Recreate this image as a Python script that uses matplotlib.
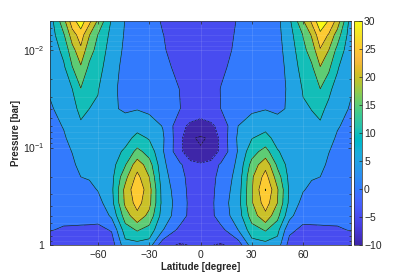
import numpy as np
import matplotlib
matplotlib.use("Agg")
import matplotlib.pyplot as plt
from matplotlib.colors import LinearSegmentedColormap, Normalize
from matplotlib.cm import ScalarMappable
from matplotlib.ticker import FixedLocator, NullFormatter

plt.rcParams['font.family'] = ['Liberation Sans', 'DejaVu Sans']
plt.rcParams['mathtext.fontset'] = 'custom'
plt.rcParams['mathtext.rm'] = 'Liberation Sans'
plt.rcParams['mathtext.it'] = 'Liberation Sans:italic'
plt.rcParams['mathtext.bf'] = 'Liberation Sans:bold'

# latitude [degree]
lat = [-88, -80, -75, -70, -65, -60, -52, -44, -37, -30, -22, -12, -6, 0,
       6, 12, 22, 30, 38, 45, 52, 60, 65, 70, 75, 80, 88]
# pressure [bar], top of the plot first
pressure = [0.005, 0.007, 0.01, 0.015, 0.025, 0.04, 0.06, 0.08, 0.11,
            0.15, 0.2, 0.27, 0.37, 0.5, 0.7, 1.0]
# wind value, one row per pressure level
wind = [
    [7.5, 18.3, 28.0, 33.0, 26.5, 19.4, 9.5, 4.8, 2.5, 1.5, -0.4, -2.2, -3.2, -3.8, -3.2, -2.0, 0.3, 1.5, 2.5, 3.8, 9.0, 19.7, 26.0, 34.0, 29.7, 23.2, 7.2],
    [7.2, 14.4, 22.5, 27.5, 20.2, 14.9, 8.5, 4.5, 2.5, 1.5, 0.1, -2.0, -3.1, -3.7, -3.1, -1.8, 0.6, 1.6, 2.5, 3.6, 8.0, 15.2, 20.5, 28.5, 24.5, 17.5, 6.9],
    [6.8, 11.3, 18.1, 23.8, 16.7, 13.6, 7.5, 4.2, 2.5, 1.6, 0.4, -1.8, -3.0, -3.6, -3.0, -1.5, 0.9, 1.8, 2.5, 3.5, 7.0, 13.8, 17.0, 24.5, 20.0, 13.5, 6.5],
    [6.3, 9.2, 14.8, 19.3, 14.0, 12.1, 6.5, 3.9, 2.6, 1.8, 1.2, -1.2, -2.8, -3.4, -2.8, -0.8, 1.5, 2.0, 2.6, 3.4, 6.2, 12.2, 14.2, 19.8, 16.0, 10.5, 6.0],
    [5.4, 7.7, 10.0, 14.8, 11.9, 10.3, 5.8, 3.9, 3.3, 2.5, 2.2, -0.1, -2.3, -3.0, -2.3, 0.2, 2.5, 2.6, 3.3, 3.6, 5.6, 10.4, 12.0, 15.0, 11.0, 8.2, 5.3],
    [4.5, 6.4, 8.5, 11.2, 10.0, 9.2, 5.4, 4.6, 4.8, 4.2, 3.5, 0.1, -2.0, -3.0, -2.0, 0.1, 3.5, 4.3, 4.8, 4.5, 5.3, 9.3, 10.1, 11.3, 8.8, 6.6, 4.6],
    [3.8, 5.2, 7.1, 9.2, 8.8, 8.6, 6.3, 6.5, 8.3, 7.0, 4.8, -3.4, -6.0, -6.8, -6.0, -3.4, 5.0, 7.2, 8.5, 6.3, 6.2, 8.6, 8.9, 9.2, 7.2, 5.3, 3.9],
    [3.4, 4.5, 6.2, 8.3, 8.0, 8.2, 7.0, 8.2, 11.5, 9.6, 5.6, -3.6, -9.4, -10.6, -9.4, -3.6, 5.8, 9.8, 11.8, 8.0, 6.9, 8.2, 8.0, 8.3, 6.2, 4.5, 3.4],
    [3.0, 3.9, 5.1, 7.3, 7.1, 7.6, 7.5, 11.0, 16.5, 13.0, 5.4, -3.6, -8.8, -9.4, -8.8, -3.6, 5.4, 13.0, 17.0, 10.5, 7.4, 7.6, 7.1, 7.3, 5.1, 3.9, 3.0],
    [2.6, 3.3, 4.3, 6.1, 6.1, 6.8, 8.0, 14.6, 23.0, 17.3, 6.0, 0.8, -3.0, -4.2, -3.0, 0.8, 6.0, 16.8, 23.5, 14.0, 8.0, 6.8, 6.1, 6.1, 4.3, 3.3, 2.6],
    [2.2, 2.8, 3.6, 5.0, 5.3, 6.0, 8.5, 18.5, 26.5, 20.0, 6.8, 1.5, -1.5, -2.6, -1.5, 1.5, 6.8, 19.2, 27.0, 17.5, 8.6, 6.0, 5.3, 5.0, 3.6, 2.8, 2.2],
    [1.8, 2.2, 2.8, 3.9, 4.0, 5.2, 8.8, 21.5, 29.0, 22.0, 7.8, 2.0, -1.2, -2.4, -1.2, 2.0, 7.5, 19.5, 30.2, 20.5, 9.2, 5.3, 4.1, 3.9, 2.8, 2.2, 1.8],
    [1.3, 1.6, 2.0, 2.7, 2.6, 3.2, 8.3, 21.0, 27.0, 21.5, 8.2, 2.6, -1.1, -2.4, -1.1, 2.6, 8.0, 19.5, 27.5, 20.0, 8.8, 3.4, 2.7, 2.7, 2.0, 1.6, 1.3],
    [0.8, 0.9, 1.0, 1.0, 1.2, 1.2, 5.8, 17.5, 23.5, 18.5, 7.5, 2.5, -1.3, -2.6, -1.3, 2.5, 7.3, 17.5, 23.5, 16.5, 6.5, 1.3, 1.2, 1.0, 1.0, 0.9, 0.8],
    [0.2, -0.4, -0.5, -0.6, -0.8, -1.0, 0.3, 12.5, 15.5, 13.0, 5.2, -1.5, -2.8, -3.5, -2.8, -1.5, 5.0, 12.5, 15.5, 11.5, 1.0, -1.0, -0.8, -0.6, -0.5, -0.4, 0.2],
    [-2.5, -3.0, -3.0, -3.0, -3.2, -3.3, -2.5, 8.0, 8.0, 7.5, -3.5, -5.5, -4.8, -4.5, -4.8, -5.5, -3.0, 7.5, 8.0, 7.5, -2.0, -3.3, -3.2, -3.0, -3.0, -3.0, -2.5],
]
levels = [-10, -5, 0, 5, 10, 15, 20, 25, 30]
cbar_ticks = [-10, -5, 0, 5, 10, 15, 20, 25, 30]

# MATLAB parula (64 steps)
parula_rgb = [
    [0.2422, 0.1504, 0.6603], [0.2504, 0.1650, 0.7076], [0.2578, 0.1818, 0.7511], [0.2647, 0.1978, 0.7952],
    [0.2706, 0.2147, 0.8364], [0.2751, 0.2342, 0.8710], [0.2783, 0.2559, 0.8991], [0.2803, 0.2782, 0.9221],
    [0.2813, 0.3006, 0.9414], [0.2810, 0.3228, 0.9579], [0.2795, 0.3447, 0.9717], [0.2760, 0.3667, 0.9829],
    [0.2699, 0.3892, 0.9906], [0.2602, 0.4123, 0.9952], [0.2440, 0.4358, 0.9988], [0.2206, 0.4603, 0.9973],
    [0.1963, 0.4847, 0.9892], [0.1834, 0.5074, 0.9798], [0.1786, 0.5289, 0.9682], [0.1764, 0.5499, 0.9520],
    [0.1687, 0.5703, 0.9359], [0.1540, 0.5902, 0.9218], [0.1460, 0.6091, 0.9079], [0.1380, 0.6276, 0.8973],
    [0.1248, 0.6459, 0.8883], [0.1113, 0.6635, 0.8763], [0.0952, 0.6798, 0.8598], [0.0689, 0.6948, 0.8394],
    [0.0297, 0.7082, 0.8163], [0.0036, 0.7203, 0.7917], [0.0067, 0.7312, 0.7660], [0.0433, 0.7411, 0.7394],
    [0.0964, 0.7500, 0.7120], [0.1408, 0.7584, 0.6842], [0.1717, 0.7670, 0.6554], [0.1938, 0.7758, 0.6251],
    [0.2161, 0.7843, 0.5923], [0.2470, 0.7918, 0.5567], [0.2906, 0.7973, 0.5188], [0.3406, 0.8008, 0.4789],
    [0.3909, 0.8029, 0.4354], [0.4456, 0.8024, 0.3909], [0.5044, 0.7993, 0.3480], [0.5616, 0.7942, 0.3045],
    [0.6174, 0.7876, 0.2612], [0.6720, 0.7793, 0.2227], [0.7242, 0.7698, 0.1910], [0.7738, 0.7598, 0.1646],
    [0.8203, 0.7498, 0.1535], [0.8634, 0.7406, 0.1596], [0.9035, 0.7330, 0.1774], [0.9393, 0.7288, 0.2100],
    [0.9728, 0.7298, 0.2394], [0.9956, 0.7434, 0.2371], [0.9970, 0.7659, 0.2199], [0.9952, 0.7893, 0.2028],
    [0.9892, 0.8136, 0.1885], [0.9786, 0.8386, 0.1766], [0.9676, 0.8639, 0.1643], [0.9610, 0.8890, 0.1537],
    [0.9597, 0.9135, 0.1423], [0.9628, 0.9373, 0.1265], [0.9691, 0.9606, 0.1064], [0.9769, 0.9839, 0.0805],
]
parula = LinearSegmentedColormap.from_list("parula", parula_rgb)
norm = Normalize(vmin=levels[0], vmax=levels[-1])

# like MATLAB contourf: each band takes the colour of its lower level
band_colors = [parula(norm(levels[0]))] + [parula(norm(v)) for v in levels[:-1]] + [parula(norm(levels[-1]))]

fig = plt.figure(figsize=(4.07, 2.76), dpi=100)
ax = fig.add_axes([50 / 407, 1 - 245 / 276, 301 / 407, 224.3 / 276])

LAT, P = np.meshgrid(lat, pressure)
U = np.array(wind)
ax.contourf(LAT, P, U, levels=levels, colors=band_colors, extend="both")
ax.contour(LAT, P, U, levels=levels, colors="#1a1a1a", linewidths=0.45)

ax.set_yscale("log")
ax.set_ylim(1, 0.005)
ax.set_xlim(lat[0], lat[-1])
ax.set_xticks([-60, -30, 0, 30, 60])
ax.yaxis.set_major_locator(FixedLocator([0.01, 0.1, 1]))
ax.set_yticklabels([r"$10^{-2}$", r"$10^{-1}$", "1"])
minor = [m * d for d in (0.001, 0.01, 0.1) for m in range(2, 10) if 0.005 <= m * d < 1]
ax.yaxis.set_minor_locator(FixedLocator(minor))
ax.yaxis.set_minor_formatter(NullFormatter())

ax.grid(True, which="major", color="white", alpha=0.15, linewidth=0.5)
ax.grid(True, which="minor", axis="y", color="white", alpha=0.1, linewidth=0.5)
ax.set_axisbelow(False)

ax.tick_params(which="both", direction="in", top=True, right=True, width=0.5,
               labelsize=7.5, colors="#262626")
ax.tick_params(axis="x", pad=3.5)
ax.tick_params(axis="y", pad=4)
ax.tick_params(which="major", length=2.5)
ax.tick_params(which="minor", length=1.5)
for s in ax.spines.values():
    s.set_linewidth(0.5)
    s.set_color("#262626")

ax.set_xlabel("Latitude [degree]", fontsize=7, fontweight="bold", color="#262626", labelpad=1.5)
ax.set_ylabel("Pressure [bar]", fontsize=7, fontweight="bold", color="#262626", labelpad=1)

cax = fig.add_axes([354 / 407, 1 - 245 / 276, 8 / 407, 224.3 / 276])
cb = fig.colorbar(ScalarMappable(norm=norm, cmap=parula), cax=cax, ticks=cbar_ticks)
cb.outline.set_linewidth(0.5)
cb.outline.set_edgecolor("#262626")
cax.tick_params(direction="in", length=2.5, width=0.5, labelsize=7.5, colors="#262626", pad=1.5)

fig.savefig("out.png", dpi=100)
